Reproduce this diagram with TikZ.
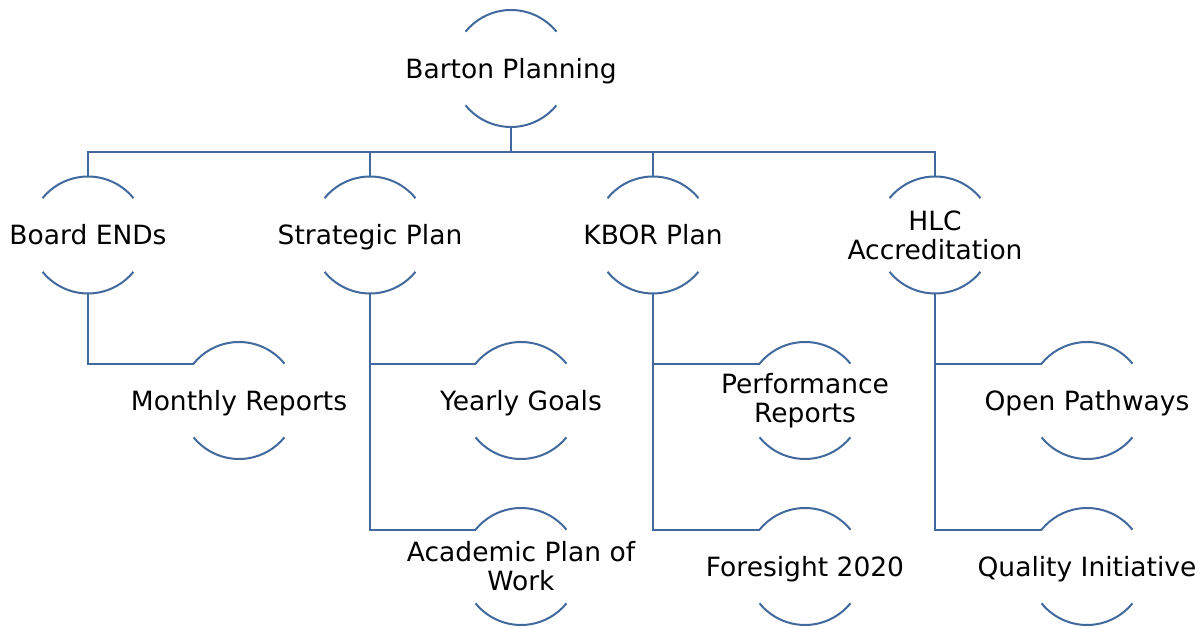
\documentclass[tikz,border=0pt]{standalone}
\usepackage{fontspec}
\setmainfont{DejaVu Sans}
\usepackage{tikz}
\usetikzlibrary{calc}
\definecolor{arcblue}{RGB}{65,105,157}

\begin{document}
\begin{tikzpicture}[x=1pt,y=1pt]
					\tikzstyle{every node}=[font=\fontsize{26.5}{29}\selectfont, align=center]
					\tikzstyle{hnode}=[rectangle, inner sep=0pt, minimum height=117pt]
					\tikzstyle{oneline}=[hnode, text height=19.3pt, text depth=0pt]
					\tikzstyle{arcline}=[arcblue, line width=2pt]
					\useasboundingbox (0,0) rectangle (1204,628);
					
					% top of the tree
					\node[oneline] (barton) at (511,559.5) {Barton Planning};
					
					% first row
					\node[oneline] (board) at (88,393) {Board ENDs};
					\node[oneline] (strategic) at (370,393) {Strategic Plan};
					\node[oneline] (kbor) at (653,393) {KBOR Plan};
					\node[hnode] (hlc) at (935,393) {HLC\\Accreditation};
					
					% second row
					\node[oneline] (monthly) at (239,227.5) {Monthly Reports};
					\node[oneline] (yearly) at (521,227.5) {Yearly Goals};
					\node[hnode] (academic) at (521,61.5) {Academic Plan of\\Work};
					\node[hnode] (performance) at (805,227.5) {Performance\\Reports};
					\node[oneline] (foresight) at (805,61.5) {Foresight 2020};
					\node[oneline] (pathways) at (1087,227.5) {Open Pathways};
					\node[oneline] (quality) at (1087,61.5) {Quality Initiative};
					
					% the two arcs of every circle
					\foreach \n in {barton,board,strategic,kbor,hlc,monthly,yearly,academic,performance,foresight,pathways,quality} {
						\draw[arcline] ($(\n.center)+(39:58.5)$) arc[radius=58.5, start angle=39, end angle=141];
						\draw[arcline] ($(\n.center)+(219:58.5)$) arc[radius=58.5, start angle=219, end angle=321];
					}
					
					% bus line under the top
					\coordinate (bus) at (511,476.3);
					\draw[arcline] (barton.south) -- (barton.south |- bus);
					\foreach \n in {board,strategic,kbor,hlc} {
						\draw[arcline] (\n.north) |- (bus);
					}
					
					% links to the second row
					\draw[arcline] (board.south) |- ($(monthly.center)+(141:58.5)$);
					\draw[arcline] (strategic.south) |- ($(yearly.center)+(141:58.5)$);
					\draw[arcline] (strategic.south) |- ($(academic.center)+(141:58.5)$);
					\draw[arcline] (kbor.south) |- ($(performance.center)+(141:58.5)$);
					\draw[arcline] (kbor.south) |- ($(foresight.center)+(141:58.5)$);
					\draw[arcline] (hlc.south) |- ($(pathways.center)+(141:58.5)$);
					\draw[arcline] (hlc.south) |- ($(quality.center)+(141:58.5)$);
					
					\end{tikzpicture}
\end{document}
